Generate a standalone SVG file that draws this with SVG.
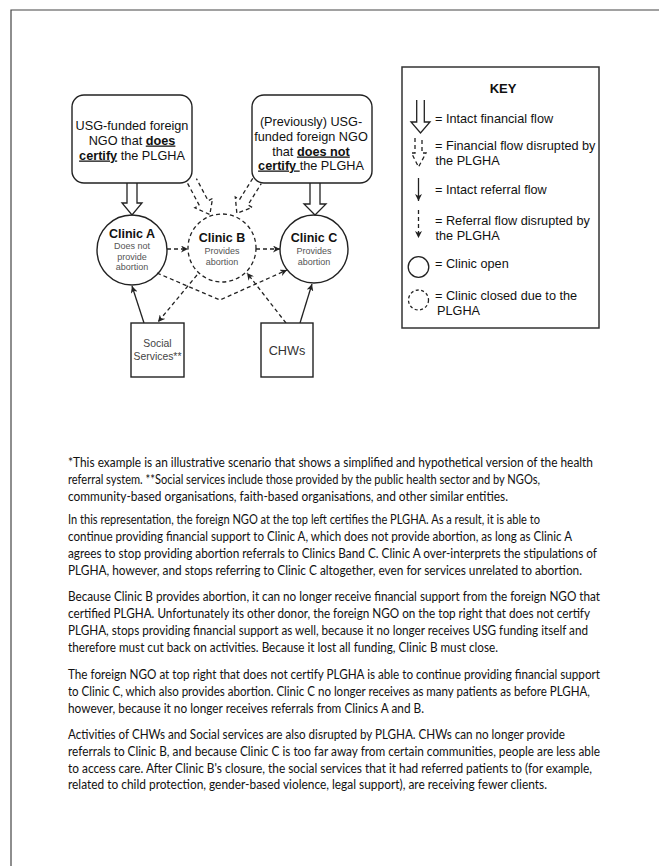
<svg xmlns="http://www.w3.org/2000/svg" width="659" height="866" viewBox="0 0 659 866">
<style>
.lbl{font-family:"Liberation Sans",Arial,sans-serif;font-size:12.7px;fill:#111;}
.ttl{font-family:"Liberation Sans",Arial,sans-serif;font-size:12.5px;font-weight:bold;fill:#111;text-anchor:middle;}
.sub{font-family:"Liberation Sans",Arial,sans-serif;font-size:9px;fill:#555;text-anchor:middle;}
.b{font-weight:bold;text-decoration:underline;}
.box{fill:#fff;stroke:#222;stroke-width:1.4;}
.solid{fill:none;stroke:#222;stroke-width:1.3;}
.dash{fill:none;stroke:#222;stroke-width:1.3;stroke-dasharray:4 3;}
.para{font-family:Lato,"Liberation Sans",sans-serif;font-size:12.5px;fill:#111;}
</style>
<defs>
<marker id="ah" viewBox="0 0 10 10" refX="10" refY="5" markerWidth="7" markerHeight="7" orient="auto" markerUnits="userSpaceOnUse"><path d="M0,0 L10,5 L0,10 L3,5 z" fill="#222"/></marker>
<path id="hollowDash" d="M-5,0 V25 H-10 L0,38 L10,25 H5 V0"/>
</defs>
<rect width="659" height="866" fill="#fff"/>
<path d="M11,866 V10 H659" fill="none" stroke="#444" stroke-width="1.2"/>

<g id="ngo-left">
<rect class="box" x="72" y="95" width="120" height="88" rx="12"/>
<text class="lbl" text-anchor="middle" x="132" y="129.5">USG-funded foreign</text>
<text class="lbl" text-anchor="middle" x="132" y="144.5">NGO that <tspan class="b">does</tspan></text>
<text class="lbl" text-anchor="middle" x="132" y="159.5"><tspan class="b">certify</tspan> the PLGHA</text>
</g>
<g id="ngo-right">
<rect class="box" x="252" y="95" width="120" height="88" rx="12"/>
<text class="lbl" text-anchor="middle" x="311" y="126">(Previously) USG-</text>
<text class="lbl" text-anchor="middle" x="311" y="141">funded foreign NGO</text>
<text class="lbl" text-anchor="middle" x="311" y="155.5">that <tspan class="b">does not</tspan></text>
<text class="lbl" text-anchor="middle" x="311" y="169.5"><tspan class="b">certify </tspan>the PLGHA</text>
</g>

<g id="connectors">
<path class="solid" d="M127,183 V203 H122 L132,215 L142,203 H137 V183"/>
<path class="solid" d="M310,183 V204 H304 L315,215 L326,204 H320 V183"/>
<use href="#hollowDash" class="dash" transform="translate(192,181) rotate(-28)"/>
<use href="#hollowDash" class="dash" transform="translate(257,181) rotate(32)"/>
<line class="solid" x1="144" y1="323" x2="132" y2="286" marker-end="url(#ah)"/>
<line class="solid" x1="300" y1="323" x2="312" y2="284" marker-end="url(#ah)"/>
<line class="dash" x1="167" y1="249" x2="188" y2="249" marker-end="url(#ah)"/>
<line class="dash" x1="256" y1="249" x2="280" y2="249" marker-end="url(#ah)"/>
<polyline class="dash" points="157,273 220,300 287,270" marker-end="url(#ah)"/>
<line class="dash" x1="197" y1="275" x2="158" y2="322" marker-end="url(#ah)"/>
<line class="dash" x1="286" y1="323" x2="247" y2="273" marker-end="url(#ah)"/>
</g>

<g id="clinic-a">
<circle cx="132" cy="250" r="35" fill="none" stroke="#222" stroke-width="1.4"/>
<text class="ttl" x="132" y="238">Clinic A</text>
<text class="sub" x="132" y="249">Does not</text>
<text class="sub" x="132" y="259.5">provide</text>
<text class="sub" x="132" y="270">abortion</text>
</g>
<g id="clinic-b">
<circle cx="222" cy="248" r="34" fill="none" stroke="#222" stroke-width="1.3" stroke-dasharray="4 3"/>
<text class="ttl" x="222" y="242">Clinic B</text>
<text class="sub" x="222" y="254">Provides</text>
<text class="sub" x="222" y="265">abortion</text>
</g>
<g id="clinic-c">
<circle cx="314" cy="249" r="34" fill="none" stroke="#222" stroke-width="1.4"/>
<text class="ttl" x="314" y="242">Clinic C</text>
<text class="sub" x="314" y="254">Provides</text>
<text class="sub" x="314" y="265">abortion</text>
</g>
<g id="social-services">
<rect class="box" x="131" y="323" width="53" height="54"/>
<text x="157.5" y="347" text-anchor="middle" style="font-family:'Liberation Sans',Arial,sans-serif;font-size:10.4px;fill:#444">Social</text>
<text x="157.5" y="360" text-anchor="middle" style="font-family:'Liberation Sans',Arial,sans-serif;font-size:10.4px;fill:#444">Services**</text>
</g>
<g id="chws">
<rect class="box" x="261" y="323" width="52" height="54"/>
<text x="287" y="354.5" text-anchor="middle" style="font-family:'Liberation Sans',Arial,sans-serif;font-size:12.7px;fill:#333">CHWs</text>
</g>

<g id="key">
<rect x="402" y="67" width="197" height="261" fill="#fff" stroke="#333" stroke-width="1.5"/>
<text class="ttl" x="503" y="93" style="font-size:13px">KEY</text>
<path class="solid" d="M416.7,100 V122 H411 L420.5,133 L430,122 H424.3 V100"/>
<text class="lbl" x="435" y="123">= Intact financial flow</text>
<path class="dash" stroke-dasharray="3 2.5" d="M415,138 V153 H411.5 L418.5,167 L426,153 H422 V138"/>
<text class="lbl" x="435" y="149.5">= Financial flow disrupted by</text>
<text class="lbl" x="435.5" y="165">the PLGHA</text>
<line class="solid" x1="418.5" y1="178" x2="418.5" y2="201" marker-end="url(#ah)"/>
<text class="lbl" x="435" y="194">= Intact referral flow</text>
<line class="dash" x1="418.5" y1="210" x2="418.5" y2="238" marker-end="url(#ah)"/>
<text class="lbl" x="435" y="224.5">= Referral flow disrupted by</text>
<text class="lbl" x="435.5" y="239.5">the PLGHA</text>
<circle cx="418.5" cy="267" r="10.3" fill="none" stroke="#222" stroke-width="1.3"/>
<text class="lbl" x="435" y="268">= Clinic open</text>
<circle cx="418.5" cy="300" r="10" fill="none" stroke="#222" stroke-width="1.3" stroke-dasharray="3 2.5"/>
<text class="lbl" x="435" y="299.5">= Clinic closed due to the</text>
<text class="lbl" x="437" y="314.5">PLGHA</text>
</g>

<g id="notes" class="para">
<text x="68" y="467" textLength="525" lengthAdjust="spacingAndGlyphs">*This example is an illustrative scenario that shows a simplified and hypothetical version of the health</text>
<text x="68" y="484" textLength="472" lengthAdjust="spacingAndGlyphs">referral system. **Social services include those provided by the public health sector and by NGOs,</text>
<text x="68" y="501" textLength="440" lengthAdjust="spacingAndGlyphs">community-based organisations, faith-based organisations, and other similar entities.</text>
<text x="68" y="524" textLength="472" lengthAdjust="spacingAndGlyphs">In this representation, the foreign NGO at the top left certifies the PLGHA. As a result, it is able to</text>
<text x="68" y="541" textLength="504" lengthAdjust="spacingAndGlyphs">continue providing financial support to Clinic A, which does not provide abortion, as long as Clinic A</text>
<text x="68" y="558" textLength="529" lengthAdjust="spacingAndGlyphs">agrees to stop providing abortion referrals to Clinics Band C. Clinic A over-interprets the stipulations of</text>
<text x="68" y="575" textLength="514" lengthAdjust="spacingAndGlyphs">PLGHA, however, and stops referring to Clinic C altogether, even for services unrelated to abortion.</text>
<text x="68" y="601" textLength="532" lengthAdjust="spacingAndGlyphs">Because Clinic B provides abortion, it can no longer receive financial support from the foreign NGO that</text>
<text x="68" y="618" textLength="522" lengthAdjust="spacingAndGlyphs">certified PLGHA. Unfortunately its other donor, the foreign NGO on the top right that does not certify</text>
<text x="68" y="635" textLength="520" lengthAdjust="spacingAndGlyphs">PLGHA, stops providing financial support as well, because it no longer receives USG funding itself and</text>
<text x="68" y="652" textLength="430" lengthAdjust="spacingAndGlyphs">therefore must cut back on activities. Because it lost all funding, Clinic B must close.</text>
<text x="68" y="679" textLength="532" lengthAdjust="spacingAndGlyphs">The foreign NGO at top right that does not certify PLGHA is able to continue providing financial support</text>
<text x="68" y="696" textLength="522" lengthAdjust="spacingAndGlyphs">to Clinic C, which also provides abortion. Clinic C no longer receives as many patients as before PLGHA,</text>
<text x="68" y="713" textLength="356" lengthAdjust="spacingAndGlyphs">however, because it no longer receives referrals from Clinics A and B.</text>
<text x="68" y="739" textLength="497" lengthAdjust="spacingAndGlyphs">Activities of CHWs and Social services are also disrupted by PLGHA. CHWs can no longer provide</text>
<text x="68" y="756" textLength="532" lengthAdjust="spacingAndGlyphs">referrals to Clinic B, and because Clinic C is too far away from certain communities, people are less able</text>
<text x="68" y="772.5" textLength="524" lengthAdjust="spacingAndGlyphs">to access care. After Clinic B's closure, the social services that it had referred patients to (for example,</text>
<text x="68" y="789" textLength="479" lengthAdjust="spacingAndGlyphs">related to child protection, gender-based violence, legal support), are receiving fewer clients.</text>
</g>
</svg>
